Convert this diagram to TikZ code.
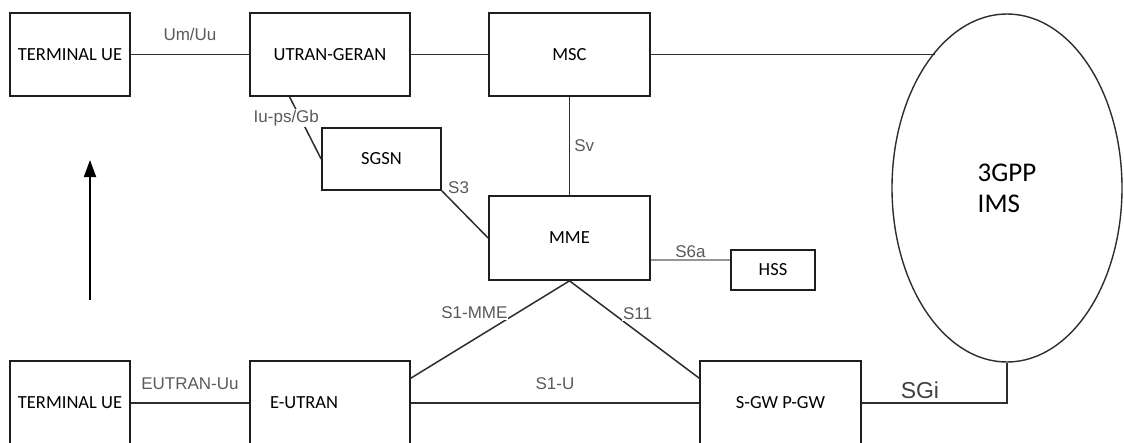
\documentclass[tikz,border=0pt]{standalone}
\usepackage{fontspec}
\setmainfont{Carlito}
\newfontfamily\ifacefont{Liberation Sans}
\usepackage{tikz}
\usetikzlibrary{calc,arrows.meta,shapes.geometric}
\definecolor{boxline}{RGB}{30,30,30}
\definecolor{linkline}{RGB}{45,45,45}
\definecolor{ifacegray}{RGB}{90,90,90}
\definecolor{hssline}{RGB}{150,150,150}
\tikzset{
    netbox/.style={draw=boxline,line width=1.7pt,rectangle,inner sep=0pt,font=\fontsize{18.5}{21}\selectfont},
    link/.style={draw=linkline,line width=1.5pt},
    iface/.style={font=\ifacefont\fontsize{17}{19}\selectfont,text=ifacegray,fill=white,inner sep=1pt}
}

\begin{document}
\begin{tikzpicture}[x=1pt,y=-1pt]
        \useasboundingbox (0,0) rectangle (1124,442);
        \clip (0,0) rectangle (1124,442);
        \node[netbox,minimum width=120pt,minimum height=83pt] (ueTop) at (70,54.5) {TERMINAL UE};
        \node[netbox,minimum width=160pt,minimum height=83pt] (utran) at (330,54.5) {UTRAN-GERAN};
        \node[netbox,minimum width=161pt,minimum height=83pt] (msc) at (569.5,54.5) {MSC};
        \node[netbox,minimum width=119pt,minimum height=62pt] (sgsn) at (381.5,159) {SGSN};
        \node[netbox,minimum width=161pt,minimum height=84pt] (mme) at (569.5,238) {MME};
        \node[netbox,minimum width=84pt,minimum height=40pt] (hss) at (773,270) {HSS};
        \node[netbox,minimum width=120pt,minimum height=84pt] (ueBot) at (70,403) {TERMINAL UE};
        \node[netbox,minimum width=160pt,minimum height=84pt,text width=120pt,align=left] (eutran) at (330,403) {E-UTRAN};
        \node[netbox,minimum width=161pt,minimum height=84pt] (gw) at (780.5,403) {S-GW P-GW};
        \node[draw=linkline,line width=1.4pt,ellipse,inner sep=0pt,minimum width=230pt,minimum height=348pt,
              align=left,font=\fontsize{27}{31}\selectfont] (ims) at (1007,188) {3GPP\\IMS};

        \coordinate (iuStart) at ($(utran.south west)!0.25!(utran.south east)$);
        \coordinate (s6aEnd) at ($(hss.west)+(0,-10)$);
        \coordinate (s1mmeEnd) at ($(eutran.north east)+(0,18)$);
        \coordinate (s11End) at ($(gw.north west)+(0,18)$);
        \coordinate (upTail) at (90,300);
        \coordinate (upHead) at (90,160);

        \draw[link] (ueTop.east) -- node[iface,above=12pt] {Um/Uu} (utran.west);
        \draw[link] (utran.east) -- (msc.west);
        \draw[link] (msc.east) -- (msc.east -| ims.118.9);
        \draw[link] (iuStart) -- node[iface,pos=0.34,xshift=-14pt] {Iu-ps/Gb} (sgsn.west);
        \draw[link] (sgsn.south east) -- node[iface,pos=0.1,anchor=south west,fill=none] {S3} (mme.west);
        \draw[link] (msc.south) -- node[iface,right=3pt,fill=none] {Sv} (mme.north);
        \draw[link,draw=hssline] (mme.east |- s6aEnd) -- node[iface,yshift=8pt] {S6a} (s6aEnd);
        \draw[link] (mme.south) -- node[iface,pos=0.38,anchor=east,yshift=5pt] {S1-MME} (s1mmeEnd);
        \draw[link] (mme.south) -- node[iface,pos=0.4,anchor=west,yshift=6pt] {S11} (s11End);
        \draw[link] (eutran.east) -- node[iface,above=12pt,fill=none] {S1-U} (gw.west);
        \draw[link] (ueBot.east) -- node[iface,above=12pt,fill=none] {EUTRAN-Uu} (eutran.west);
        \draw[link] (gw.east) -| node[iface,pos=0.2,above=3pt,fill=none,text=black!75,font=\ifacefont\fontsize{23}{26}\selectfont] {SGi} (ims.south);

        \draw[-{Triangle[length=17pt,width=12pt]},line width=1.8pt] (upTail) -- (upHead);
    \end{tikzpicture}
\end{document}
